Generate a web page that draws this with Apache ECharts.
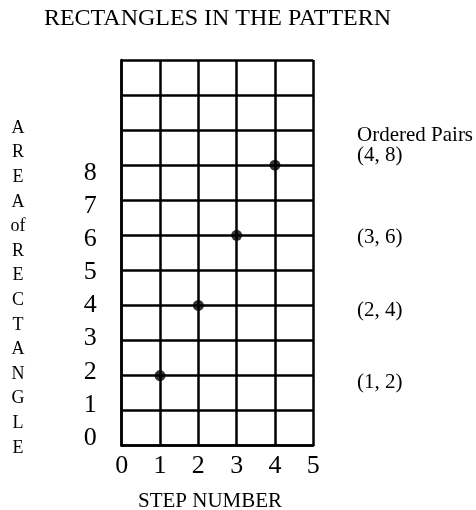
<!DOCTYPE html>
<html>
<head>
<meta charset="utf-8">
<script src="https://cdn.jsdelivr.net/npm/echarts@6/dist/echarts.min.js"></script>
<style>
  html, body { margin: 0; padding: 0; background: #fff; }
  #chart { width: 476px; height: 510px; }
</style>
</head>
<body>
<div id="chart"></div>
<script>
  const steps = [1, 2, 3, 4];
  const areas = [2, 4, 6, 8];
  const xTicks = ['0', '1', '2', '3', '4', '5'];
  const yTicks = ['0', '1', '2', '3', '4', '5', '6', '7', '8'];
  const sideLetters = ['A', 'R', 'E', 'A', 'of', 'R', 'E', 'C', 'T', 'A', 'N', 'G', 'L', 'E'];

  const serif = '"Liberation Serif", "Times New Roman", serif';
  const chart = echarts.init(document.getElementById('chart'));

  // ordered pairs, listed top to bottom like the reference
  const pairTexts = steps.map((s, i) => `(${s}, ${areas[i]})`).reverse();
  const pairY = [155, 237, 310, 382];

  const gridLine = { show: true, lineStyle: { color: '#000', width: 2.5 } };

  chart.setOption({
    animation: false,
    backgroundColor: '#fff',
    grid: [
      { left: 121.7, right: 162.7, top: 60, bottom: 64.3, outerBoundsMode: 'none', containLabel: false },
      // label-only grid so the y numbers sit where the reference puts them
      { left: 121.7, right: 162.7, top: 173, bottom: 72, outerBoundsMode: 'none', containLabel: false },
    ],
    xAxis: [
      {
        gridIndex: 0,
        type: 'value',
        min: 0,
        max: xTicks.length - 1,
        interval: 1,
        axisLine: { show: true, onZero: false, lineStyle: { color: '#000', width: 2.5 } },
        axisTick: { show: false },
        splitLine: gridLine,
        axisLabel: {
          margin: 7,
          color: '#000',
          fontFamily: serif,
          fontSize: 26,
          formatter: (v) => xTicks[v],
        },
        name: 'STEP NUMBER',
        nameLocation: 'middle',
        nameGap: 45,
        nameTextStyle: { color: '#000', fontFamily: serif, fontSize: 21, padding: [0, 15, 0, 0] },
      },
      { gridIndex: 1, type: 'value', min: 0, max: 1, show: false },
    ],
    yAxis: [
      {
        gridIndex: 0,
        type: 'value',
        min: 0,
        max: 11,
        interval: 1,
        axisLine: { show: true, onZero: false, lineStyle: { color: '#000', width: 2.5 } },
        axisTick: { show: false },
        axisLabel: { show: false },
        splitLine: gridLine,
      },
      {
        gridIndex: 1,
        type: 'value',
        min: 0,
        max: yTicks.length - 1,
        interval: 1,
        axisLine: { show: false },
        axisTick: { show: false },
        splitLine: { show: false },
        axisLabel: {
          margin: 25,
          color: '#000',
          fontFamily: serif,
          fontSize: 26,
          formatter: (v) => yTicks[v],
        },
      },
    ],
    series: [
      {
        type: 'scatter',
        xAxisIndex: 0,
        yAxisIndex: 0,
        symbol: 'circle',
        symbolSize: 11,
        itemStyle: { color: '#000' },
        data: steps.map((s, i) => [s, areas[i]]),
      },
    ],
    graphic: [
      {
        type: 'text',
        x: 217.5,
        y: 19,
        style: {
          text: 'RECTANGLES IN THE PATTERN',
          fill: '#000',
          font: `24px ${serif}`,
          textAlign: 'center',
          textVerticalAlign: 'middle',
        },
      },
      {
        type: 'text',
        x: 18,
        y: 115.7,
        style: {
          text: sideLetters.join('\n'),
          fill: '#000',
          font: `18px ${serif}`,
          lineHeight: 24.6,
          textAlign: 'center',
          textVerticalAlign: 'top',
        },
      },
      {
        type: 'text',
        x: 357,
        y: 135,
        style: {
          text: 'Ordered Pairs',
          fill: '#000',
          font: `21px ${serif}`,
          textAlign: 'left',
          textVerticalAlign: 'middle',
        },
      },
      ...pairTexts.map((t, i) => ({
        type: 'text',
        x: 357,
        y: pairY[i],
        style: {
          text: t,
          fill: '#000',
          font: `21px ${serif}`,
          textAlign: 'left',
          textVerticalAlign: 'middle',
        },
      })),
    ],
  });
</script>
</body>
</html>
